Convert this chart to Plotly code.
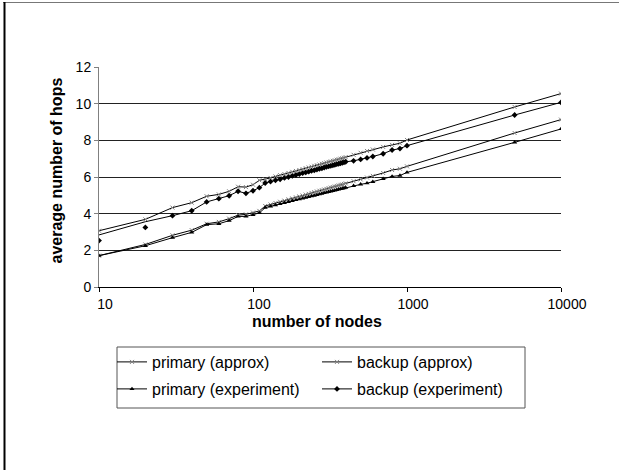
import plotly.graph_objects as go

# Network sizes (number of nodes)
nodes = [10, 20, 30, 40, 50, 60, 70, 80, 90, 100,
         110, 120, 130, 140, 150, 160, 170, 180, 190, 200,
         210, 220, 230, 240, 250, 260, 270, 280, 290, 300,
         310, 320, 330, 340, 350, 360, 370, 380, 390, 400,
         450, 500, 550, 600, 700, 800, 900, 1000, 5000, 10000]

primary_approx = [1.71, 2.32, 2.82, 3.10, 3.45, 3.55, 3.73, 3.92, 3.96, 4.06,
                  4.15, 4.42, 4.50, 4.58, 4.65, 4.71, 4.78, 4.83, 4.89, 4.94,
                  4.99, 5.04, 5.08, 5.13, 5.17, 5.21, 5.25, 5.28, 5.32, 5.35,
                  5.39, 5.42, 5.45, 5.48, 5.51, 5.54, 5.57, 5.59, 5.62, 5.65,
                  5.77, 5.87, 5.97, 6.06, 6.22, 6.38, 6.45, 6.58, 8.40, 9.13]

backup_approx = [3.07, 3.69, 4.33, 4.60, 4.95, 5.05, 5.22, 5.47, 5.45, 5.58,
                 5.82, 5.87, 5.95, 6.03, 6.10, 6.16, 6.22, 6.28, 6.33, 6.38,
                 6.43, 6.48, 6.52, 6.56, 6.61, 6.64, 6.68, 6.72, 6.75, 6.79,
                 6.82, 6.85, 6.88, 6.91, 6.94, 6.97, 7.00, 7.02, 7.05, 7.08,
                 7.21, 7.32, 7.42, 7.50, 7.64, 7.75, 7.84, 8.02, 9.82, 10.55]

primary_experiment = [1.71, 2.25, 2.69, 2.98, 3.40, 3.45, 3.62, 3.85, 3.85, 3.93,
                      4.04, 4.33, 4.40, 4.47, 4.53, 4.59, 4.65, 4.70, 4.75, 4.79,
                      4.84, 4.88, 4.92, 4.96, 4.99, 5.03, 5.06, 5.10, 5.13, 5.16,
                      5.19, 5.22, 5.25, 5.27, 5.30, 5.33, 5.35, 5.37, 5.40, 5.42,
                      5.52, 5.60, 5.66, 5.74, 5.90, 6.03, 6.08, 6.25, 7.89, 8.62]

backup_experiment = [2.53, 3.25, 3.89, 4.16, 4.64, 4.82, 4.98, 5.22, 5.11, 5.25,
                     5.42, 5.67, 5.75, 5.82, 5.88, 5.95, 6.00, 6.06, 6.11, 6.16,
                     6.21, 6.25, 6.29, 6.34, 6.37, 6.41, 6.45, 6.48, 6.52, 6.55,
                     6.58, 6.61, 6.64, 6.67, 6.70, 6.72, 6.75, 6.78, 6.80, 6.83,
                     6.88, 6.96, 7.04, 7.12, 7.27, 7.47, 7.55, 7.71, 9.38, 10.07]

# connecting line of the backup experiment series
backup_experiment_line = [2.84, 3.56, 3.89, 4.16, 4.64, 4.82, 4.98, 5.22, 5.11, 5.25,
                          5.42, 5.67, 5.75, 5.82, 5.88, 5.95, 6.00, 6.06, 6.11, 6.16,
                          6.21, 6.25, 6.29, 6.34, 6.37, 6.41, 6.45, 6.48, 6.52, 6.55,
                          6.58, 6.61, 6.64, 6.67, 6.70, 6.72, 6.75, 6.78, 6.80, 6.83,
                          6.88, 6.96, 7.04, 7.12, 7.27, 7.47, 7.55, 7.71, 9.38, 10.07]

x_ticks = [10, 100, 1000, 10000]
x_tick_labels = ["10", "100", "1000", "10000"]
y_ticks = [0, 2, 4, 6, 8, 10, 12]

FONT = "Liberation Sans, Arial, sans-serif"
LINE = dict(color="black", width=1)
X_MARK = dict(symbol="x-thin-open", size=4, color="#808080",
              line=dict(color="#808080", width=1))
TRI_MARK = dict(symbol="triangle-up", size=4.5, color="black")
DIA_MARK = dict(symbol="diamond", size=4.5, color="black")

fig = go.Figure()

# row 1 of the legend
fig.add_trace(go.Scatter(x=nodes, y=primary_approx, name="primary (approx)",
                         mode="lines+markers", line=LINE, marker=X_MARK,
                         legend="legend"))
fig.add_trace(go.Scatter(x=nodes, y=backup_approx, name="backup (approx)",
                         mode="lines+markers", line=LINE, marker=X_MARK,
                         legend="legend"))

# row 2 of the legend
fig.add_trace(go.Scatter(x=nodes, y=primary_experiment, name="primary (experiment)",
                         mode="lines+markers", line=LINE, marker=TRI_MARK,
                         legend="legend2"))
fig.add_trace(go.Scatter(x=nodes, y=backup_experiment_line, mode="lines",
                         line=LINE, showlegend=False, hoverinfo="skip"))
fig.add_trace(go.Scatter(x=nodes, y=backup_experiment, mode="markers",
                         marker=DIA_MARK, showlegend=False))
fig.add_trace(go.Scatter(x=[None], y=[None], name="backup (experiment)",
                         mode="lines+markers", line=LINE, marker=DIA_MARK,
                         legend="legend2"))

W, H = 619, 470
L, R, T, B = 99, 58, 67, 183
PW, PH = W - L - R, H - T - B


def px(xp):
    return (xp - L) / PW


def py(yp):
    return (T + PH - yp) / PH


legend_common = dict(orientation="h", xanchor="left", yanchor="middle",
                     bgcolor="rgba(0,0,0,0)", borderwidth=0,
                     font=dict(family=FONT, size=16, color="black"),
                     entrywidth=160, entrywidthmode="pixels", itemwidth=30)

fig.update_layout(
    width=W, height=H,
    margin=dict(l=L, r=R, t=T, b=B, autoexpand=False),
    paper_bgcolor="white", plot_bgcolor="white",
    font=dict(family=FONT, size=14, color="black"),
    xaxis=dict(type="log", range=[1, 4], tickvals=x_ticks, ticktext=x_tick_labels,
               showgrid=False, zeroline=False, showline=True, linecolor="black",
               linewidth=1, ticks="outside", ticklen=4, tickcolor="black",
               ticklabelshift=6, tickfont=dict(size=14)),
    yaxis=dict(range=[0, 12], tickvals=y_ticks, showgrid=True, gridcolor="#222222",
               gridwidth=1, zeroline=False, showline=True, linecolor="#808080",
               linewidth=1, ticks="outside", ticklen=4, tickcolor="#808080",
               tickfont=dict(size=14)),
    legend=dict(x=px(112), y=py(362), **legend_common),
    legend2=dict(x=px(112), y=py(389), **legend_common),
    annotations=[
        dict(text="<b>number of nodes</b>", xref="paper", yref="paper",
             x=px(317), y=py(321), xanchor="center", yanchor="middle",
             showarrow=False, font=dict(family=FONT, size=16)),
        dict(text="<b>average number of hops</b>", xref="paper", yref="paper",
             x=px(56), y=py(170.5), xanchor="center", yanchor="middle",
             textangle=-90, showarrow=False, font=dict(family=FONT, size=16)),
    ],
    shapes=[
        # legend frame
        dict(type="rect", xref="paper", yref="paper",
             x0=px(117), x1=px(525), y0=py(347), y1=py(408),
             line=dict(color="#555555", width=1), fillcolor="rgba(0,0,0,0)"),
        # chart frame edges
        dict(type="line", xref="paper", yref="paper",
             x0=px(3), x1=px(619), y0=py(2.5), y1=py(2.5),
             line=dict(color="#777777", width=1)),
        dict(type="line", xref="paper", yref="paper",
             x0=px(4.5), x1=px(4.5), y0=py(2), y1=py(470),
             line=dict(color="black", width=2)),
    ],
)

fig.write_html("out.html")
